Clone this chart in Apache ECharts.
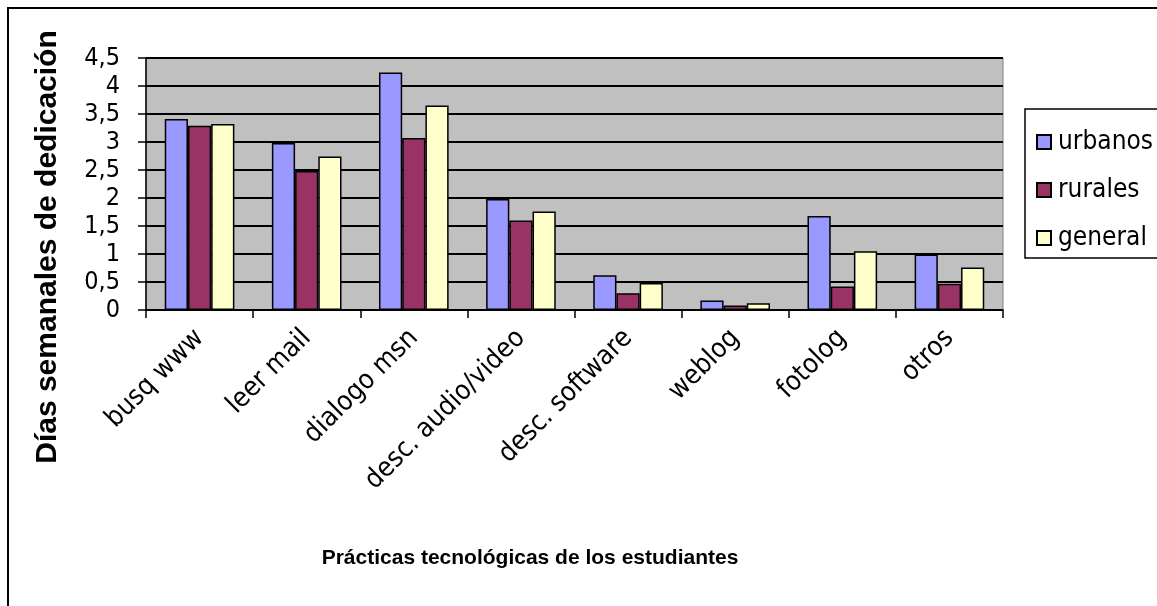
<!DOCTYPE html>
<html>
<head>
<meta charset="utf-8">
<script src="https://cdn.jsdelivr.net/npm/echarts@6/dist/echarts.min.js"></script>
<style>
  html, body { margin: 0; padding: 0; background: #fff; }
  #chart { width: 1157px; height: 606px; }
</style>
</head>
<body>
<div id="chart"></div>
<script>
// datos
const categories = ['busq www', 'leer mail', 'dialogo msn', 'desc. audio/video', 'desc. software', 'weblog', 'fotolog', 'otros']
const urbanos = [3.41, 2.98, 4.24, 1.98, 0.62, 0.17, 1.68, 0.99]
const rurales = [3.29, 2.48, 3.07, 1.60, 0.30, 0.08, 0.42, 0.47]
const general = [3.32, 2.74, 3.65, 1.76, 0.48, 0.12, 1.05, 0.76]

const narrow = "'DejaVu Sans Condensed', 'Liberation Sans', sans-serif"

function bar(name, data, color) {
  return {
    name: name,
    type: 'bar',
    data: data,
    barGap: 0,
    barCategoryGap: '35%',
    itemStyle: { color: color, borderColor: '#000', borderWidth: 1.5 },
    animation: false
  }
}

const chart = echarts.init(document.getElementById('chart'))
chart.setOption({
  backgroundColor: '#fff',
  grid: {
    left: 146, right: 154, top: 58, bottom: 296,
    show: true, backgroundColor: '#C0C0C0', borderColor: '#808080', borderWidth: 1
  },
  legend: {
    orient: 'vertical',
    left: 1031, top: 124,
    itemWidth: 14, itemHeight: 14, itemGap: 22,
    icon: 'rect',
    textStyle: { fontFamily: narrow, fontSize: 26, color: '#000', lineHeight: 26, padding: [0, 0, 0, 2] },
    data: ['urbanos', 'rurales', 'general']
  },
  xAxis: {
    type: 'category',
    data: categories,
    axisLine: { lineStyle: { color: '#000', width: 1.5 } },
    axisTick: { show: true, length: 8, lineStyle: { color: '#000', width: 1.5 } },
    axisLabel: {
      interval: 0, rotate: 45, margin: 24,
      color: '#000', fontFamily: narrow, fontSize: 27
    }
  },
  yAxis: {
    type: 'value',
    min: 0, max: 4.5, interval: 0.5,
    axisLine: { show: true, lineStyle: { color: '#000', width: 1.5 } },
    axisTick: { show: true, length: 8, lineStyle: { color: '#000', width: 1.5 } },
    splitLine: { lineStyle: { color: '#000', width: 2 } },
    axisLabel: {
      margin: 26, color: '#000', fontFamily: narrow, fontSize: 25,
      formatter: v => String(v).replace('.', ',')
    }
  },
  graphic: [
    { // marco exterior
      type: 'rect', silent: true,
      shape: { x: 8, y: 8, width: 1200, height: 650 },
      style: { fill: null, stroke: '#000', lineWidth: 2 }
    },
    { // caja de la leyenda
      type: 'rect', silent: true,
      shape: { x: 1025, y: 109, width: 200, height: 149 },
      style: { fill: '#fff', stroke: '#000', lineWidth: 1.5 },
      z: -1
    },
    {
      type: 'text', x: 48, y: 247, rotation: Math.PI / 2,
      style: {
        text: 'Días semanales de dedicación',
        align: 'center', verticalAlign: 'middle',
        font: "bold 30px 'Liberation Sans', Arial, sans-serif", fill: '#000'
      }
    },
    {
      type: 'text', x: 530, y: 558,
      style: {
        text: 'Prácticas tecnológicas de los estudiantes',
        align: 'center', verticalAlign: 'middle',
        font: "bold 21px 'Liberation Sans', Arial, sans-serif", fill: '#000'
      }
    }
  ],
  series: [
    bar('urbanos', urbanos, '#9999FF'),
    bar('rurales', rurales, '#993366'),
    bar('general', general, '#FFFFCC')
  ]
})
</script>
</body>
</html>
